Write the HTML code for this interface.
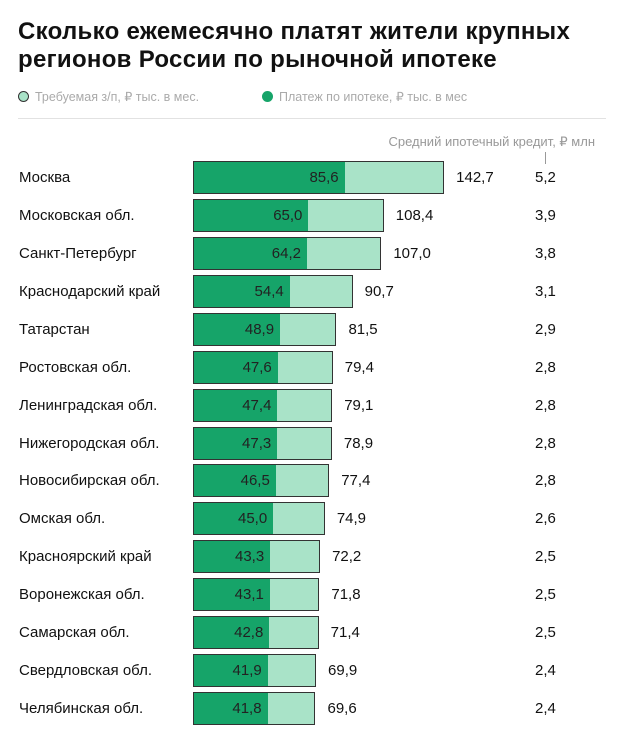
<!DOCTYPE html>
<html><head><meta charset="utf-8"><style>
body{margin:0;background:#fff;width:620px;height:730px;overflow:hidden;font-family:"Liberation Sans",sans-serif;position:relative}
.t{position:absolute;left:18px;top:18px;font-size:24px;font-weight:bold;line-height:28px;color:#111;letter-spacing:0.3px}
.lg{position:absolute;top:89px;font-size:12.5px;color:#aaa}
.dot{display:inline-block;width:11px;height:11px;border-radius:50%;vertical-align:-1px;margin-right:6px;box-sizing:border-box}
.hr{position:absolute;left:18px;top:118px;width:588px;height:1px;background:#e2e2e2}
.sub{position:absolute;right:25px;top:134px;font-size:13px;color:#999}
.tick{position:absolute;left:545px;top:152px;width:1px;height:12px;background:#999}
.row{position:absolute;left:0;width:620px;height:38px}
.nm{position:absolute;left:19px;top:10px;font-size:15px;color:#111}
.bar{position:absolute;left:193px;top:2px;height:33px;border:1px solid #333;background:#a9e3c8;box-sizing:border-box}
.dk{position:absolute;left:0;top:0;bottom:0;background:#16a469;text-align:right;font-size:15px;line-height:31px;color:#222;padding-right:6px;box-sizing:border-box}
.tot{position:absolute;top:10px;font-size:15px;color:#111}
.ln{position:absolute;left:535px;top:10px;font-size:15px;color:#111}
</style></head><body>
<div class="t">Сколько ежемесячно платят жители крупных<br>регионов России по рыночной ипотеке</div>
<div class="lg" style="left:18px"><span class="dot" style="background:#a9e3c8;border:1.5px solid #333"></span>Требуемая з/п, ₽ тыс. в мес.</div>
<div class="lg" style="left:262px"><span class="dot" style="background:#16a469"></span>Платеж по ипотеке, ₽ тыс. в мес</div>
<div class="hr"></div>
<div class="sub">Средний ипотечный кредит, ₽ млн</div>
<div class="tick"></div>
<div id="c"></div>
<script>
var d=[["Москва",85.6,142.7,"5,2"],["Московская обл.",65.0,108.4,"3,9"],["Санкт-Петербург",64.2,107.0,"3,8"],["Краснодарский край",54.4,90.7,"3,1"],["Татарстан",48.9,81.5,"2,9"],["Ростовская обл.",47.6,79.4,"2,8"],["Ленинградская обл.",47.4,79.1,"2,8"],["Нижегородская обл.",47.3,78.9,"2,8"],["Новосибирская обл.",46.5,77.4,"2,8"],["Омская обл.",45.0,74.9,"2,6"],["Красноярский край",43.3,72.2,"2,5"],["Воронежская обл.",43.1,71.8,"2,5"],["Самарская обл.",42.8,71.4,"2,5"],["Свердловская обл.",41.9,69.9,"2,4"],["Челябинская обл.",41.8,69.6,"2,4"]];
var k=1.76,h="";
function f(v){return v.toFixed(1).replace(".",",")}
d.forEach(function(r,i){var y=159+i*37.93,w=r[2]*k,dw=r[1]*k;
h+='<div class="row" style="top:'+y+'px"><div class="nm">'+r[0]+'</div><div class="bar" style="width:'+w+'px"><div class="dk" style="width:'+dw+'px">'+f(r[1])+'</div></div><div class="tot" style="left:'+(193+w+12)+'px">'+f(r[2])+'</div><div class="ln">'+r[3]+'</div></div>';});
document.getElementById("c").innerHTML=h;
</script>
</body></html>
